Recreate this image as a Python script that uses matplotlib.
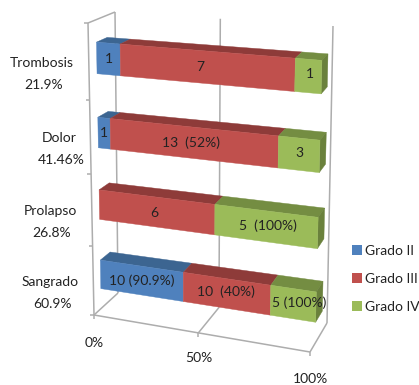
import numpy as np
import matplotlib
matplotlib.use('Agg')
import matplotlib.pyplot as plt
from matplotlib.patches import Polygon, Patch

plt.rcParams['font.family'] = ['Lato', 'DejaVu Sans']

# rows run from the bottom of the chart to the top
categories = ['Sangrado', 'Prolapso', 'Dolor', 'Trombosis']
percent_labels = ['60.9%', '26.8%', '41.46%', '21.9%']
series = ['Grado II', 'Grado III', 'Grado IV']
grado_2 = [10, 0, 1, 1]
grado_3 = [10, 6, 13, 7]
grado_4 = [5, 5, 3, 1]
tick_labels = ['0%', '50%', '100%']
bar_labels = [
    ['10 (90.9%)', '10  (40%)', '5 (100%)'],
    ['', '6', '5  (100%)'],
    ['1', '13  (52%)', '3'],
    ['1', '7', '1'],
]

colors = ['#4F81BD', '#C0504D', '#9BBB59']
top_colors = ['#3C6591', '#8E3B39', '#748D42']
side_colors = ['#355A82', '#7F3432', '#6A813C']
grid_color = '#ADADAD'
text_color = '#222222'

# corners of the plot box in pixels, keyed by (share, height, depth)
corners = {
    (0, 0, 0): (94, 315), (0, 1, 0): (88, 23),
    (0, 0, 1): (118, 293), (0, 1, 1): (115, 12),
    (1, 0, 0): (310, 352), (1, 1, 0): (318, 41),
    (1, 0, 1): (327, 323), (1, 1, 1): (333, 26),
}
foreshorten = 0.07
bar_front, bar_back = 0.3, 0.7
bar_half = 0.052


def warp(u):
    return u / (1 + foreshorten * (1 - u))


def project(share, height, depth):
    u, v, w = warp(share), warp(height), depth
    p = np.zeros(2)
    for (a, b, c), xy in corners.items():
        weight = (u if a else 1 - u) * (v if b else 1 - v) * (w if c else 1 - w)
        p += weight * np.array(xy, dtype=float)
    return p


def quad(ax, pts, color, z):
    ax.add_patch(Polygon(pts, closed=True, facecolor=color, edgecolor=color,
                         linewidth=0.3, zorder=z))


def line(ax, a, b):
    ax.plot([a[0], b[0]], [a[1], b[1]], color=grid_color, lw=1.1, zorder=1,
            solid_capstyle='butt')


fig = plt.figure(figsize=(4.19, 3.85), dpi=100)
ax = fig.add_axes([0, 0, 1, 1])
ax.set_xlim(0, 419)
ax.set_ylim(385, 0)
ax.axis('off')

# box edges and gridlines
for s in [0, 0.5, 1]:
    line(ax, project(s, 0, 0), project(s, 0, 1))
    line(ax, project(s, 0, 1), project(s, 1, 1))
    line(ax, project(s, 0, 0), project(s, 0, 0) + (0, 4))
line(ax, project(0, 0, 0), project(1, 0, 0))
line(ax, project(0, 0, 0), project(0, 1, 0))
line(ax, project(0, 1, 0), project(0, 1, 1))
for h in [0, 0.25, 0.5, 0.75, 1]:
    line(ax, project(0, h, 0), project(0, h, 0) - (4, 0))

# stacked bars, each row normalised to 100%
values = np.array([grado_2, grado_3, grado_4], dtype=float)
shares = np.cumsum(values, axis=0) / values.sum(axis=0)
shares = np.vstack([np.zeros(len(categories)), shares])
label_shift = [
    [(0, 0), (0, -2), (6, -1)],
    [(0, 0), (-2, 1), (2, -1)],
    [(0, 0), (-1, 0), (1, -1)],
    [(0, 0), (-5, 0), (2, -2)],
]

for r in range(len(categories)):
    lo = (0.125 + 0.25 * r) - bar_half
    hi = (0.125 + 0.25 * r) + bar_half
    for k in range(len(series)):
        x0, x1 = shares[k, r], shares[k + 1, r]
        if x1 <= x0:
            continue
        quad(ax, [project(x0, hi, bar_front), project(x1, hi, bar_front),
                  project(x1, hi, bar_back), project(x0, hi, bar_back)],
             top_colors[k], 3)
        quad(ax, [project(x0, lo, bar_front), project(x1, lo, bar_front),
                  project(x1, hi, bar_front), project(x0, hi, bar_front)],
             colors[k], 4)
        if k == len(series) - 1:
            quad(ax, [project(x1, lo, bar_front), project(x1, lo, bar_back),
                      project(x1, hi, bar_back), project(x1, hi, bar_front)],
                 side_colors[k], 3)
        c = project((x0 + x1) / 2, 0.125 + 0.25 * r, bar_front) + label_shift[r][k]
        ax.text(c[0], c[1], bar_labels[r][k], ha='center', va='center',
                fontsize=10, color=text_color, zorder=6)

# category names sit left of the wall
name_x = [50, 50, 59, 42]
name_y = [282, 211, 138, 63]
for r in range(len(categories)):
    ax.text(name_x[r], name_y[r], categories[r], ha='center', va='center',
            fontsize=10, color=text_color)
    ax.text(name_x[r] + 2, name_y[r] + 22, percent_labels[r], ha='center',
            va='center', fontsize=10, color=text_color)

for s, lab, off in zip([0, 0.5, 1], tick_labels, [(0, 28), (0, 25), (0, 27)]):
    p = project(s, 0, 0) + off
    ax.text(p[0], p[1], lab, ha='center', va='center', fontsize=10, color=text_color)

handles = [Patch(facecolor=c, edgecolor='none') for c in colors]
ax.legend(handles, series, loc='upper left', bbox_to_anchor=(352, 245),
          bbox_transform=ax.transData, frameon=False, fontsize=10,
          borderpad=0, borderaxespad=0, handlelength=0.72, handleheight=0.72,
          handletextpad=0.25, labelspacing=1.16, labelcolor=text_color)

fig.savefig('out.png', dpi=100)
